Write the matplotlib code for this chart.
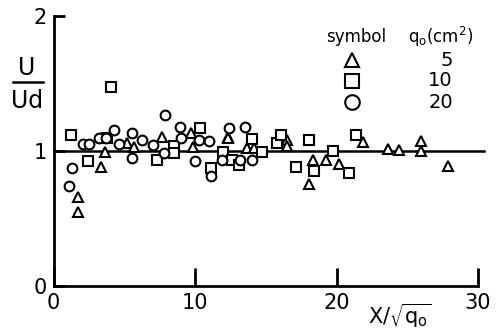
import matplotlib
matplotlib.use("Agg")
import matplotlib.pyplot as plt

plt.rcParams['font.family'] = ['DejaVu Sans']

# q0 = 5 cm^2 (triangles)
tri_x = [1.71, 1.71, 3.36, 3.64, 5.17, 5.71, 7.65, 9.70, 9.84, 12.35, 12.35, 13.65, 14.19,
         16.48, 16.48, 18.08, 18.36, 19.26, 20.20, 21.90, 23.66, 24.44, 25.95, 26.00, 27.90]
tri_y = [0.660, 0.544, 0.880, 0.990, 1.060, 1.028, 1.100, 1.134, 1.028, 1.100, 1.097, 1.020, 1.020,
         1.083, 1.033, 0.753, 0.930, 0.935, 0.900, 1.065, 1.016, 1.004, 1.072, 0.998, 0.886]

# q0 = 10 cm^2 (squares)
sq_x = [1.24, 2.46, 3.76, 4.06, 7.29, 8.52, 8.52, 10.35, 11.13, 12.00, 12.60, 13.13, 14.05, 14.71,
        15.77, 16.08, 17.14, 18.08, 18.43, 19.73, 20.90, 21.38]
sq_y = [1.120, 0.922, 1.097, 1.470, 0.930, 1.035, 0.980, 1.168, 0.869, 0.990, 0.935, 0.893, 1.090, 0.990,
        1.058, 1.120, 0.880, 1.077, 0.851, 1.000, 0.836, 1.114]

# q0 = 20 cm^2 (circles)
ci_x = [1.10, 1.28, 2.10, 2.53, 3.21, 3.69, 4.30, 4.65, 5.57, 5.57, 6.23, 7.05, 7.81, 7.88, 8.94,
        8.99, 10.00, 10.30, 11.00, 11.13, 11.93, 12.38, 13.18, 13.53, 14.05]
ci_y = [0.738, 0.869, 1.053, 1.053, 1.095, 1.095, 1.151, 1.053, 1.134, 0.947, 1.077, 1.040, 0.984, 1.262, 1.176,
        1.095, 0.922, 1.077, 1.070, 0.814, 0.935, 1.168, 0.935, 1.176, 0.930]

x_ticks = [0, 10, 20, 30]
y_ticks = [0, 1, 2]
legend_labels = ["5", "10", "20"]

W, H = 503, 335
fig = plt.figure(figsize=(W / 100, H / 100), dpi=100)
x0px, x1px = 53.5, 478.0
y0px, y1px = 286.0, 15.5
ax = fig.add_axes([x0px / W, (H - y0px) / H, (x1px - x0px) / W, (y0px - y1px) / H])
ax.set_xlim(0, 30)
ax.set_ylim(0, 2)

for s in ['top', 'right']:
    ax.spines[s].set_visible(False)
for s in ['left', 'bottom']:
    ax.spines[s].set_linewidth(2.0)

ax.set_xticks(x_ticks)
ax.set_yticks(y_ticks)
ax.tick_params(axis='x', direction='in', length=13, width=2, labelsize=15, pad=5)
ax.tick_params(axis='y', direction='in', length=8, width=2, labelsize=15, pad=5)

ax.axhline(1.0, xmin=0, xmax=1.013, color='black', lw=1.8, clip_on=False)

mk = dict(linestyle='none', markerfacecolor='white', markeredgecolor='black',
          markeredgewidth=1.5, clip_on=False)
ax.plot(tri_x, tri_y, marker='^', markersize=7.5, **mk)
ax.plot(sq_x, sq_y, marker='s', markersize=6.5, **mk)
ax.plot(ci_x, ci_y, marker='o', markersize=7, **mk)

# y label as fraction U / Ud
fig.text(27 / W, 1 - 68 / H, "U", ha='center', va='center', fontsize=17)
fig.add_artist(plt.Line2D([13 / W, 43 / W], [1 - 82 / H, 1 - 82 / H], color='black', lw=1.8))
fig.text(27 / W, 1 - 101 / H, "Ud", ha='center', va='center', fontsize=17)

# x label
fig.text(400 / W, 1 - 316 / H, r"X/$\sqrt{\mathrm{q_o}}$", ha='center', va='center', fontsize=15)

# legend table
fig.text(356 / W, 1 - 37 / H, "symbol", ha='center', va='center', fontsize=12)
fig.text(441 / W, 1 - 37 / H, r"q$_\mathrm{o}$(cm$^2$)", ha='center', va='center', fontsize=12)
leg_markers = ['^', 's', 'o']
leg_sizes = [10.5, 9.5, 10.5]
leg_y = [60, 81, 102]
for m, ms, yy, lab in zip(leg_markers, leg_sizes, leg_y, legend_labels):
    fig.add_artist(plt.Line2D([352 / W], [1 - yy / H], marker=m, markersize=ms,
                              markerfacecolor='white', markeredgecolor='black',
                              markeredgewidth=1.5, linestyle='none'))
    fig.text(453 / W, 1 - yy / H, lab, ha='right', va='center', fontsize=14)

fig.savefig("out.png", dpi=100)
